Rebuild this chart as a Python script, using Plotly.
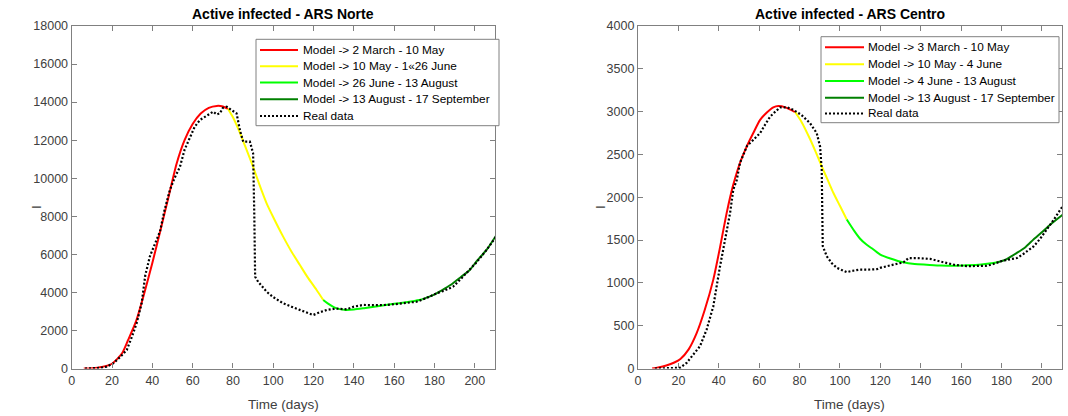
import plotly.graph_objects as go

# ---------------- ARS Norte ----------------
norte_red_t = [6, 10, 15, 20, 25, 28, 32, 36, 40, 44, 48, 52, 56, 60, 64, 68, 72, 75, 77.5]
norte_red_v = [0, 15, 80, 250, 800, 1500, 2500, 3950, 5550, 7250, 9000, 10750, 12000, 12850, 13400, 13700, 13800, 13770, 13650]
norte_yel_t = [77.5, 80, 83, 86, 90, 93, 96.7, 100, 104.9, 109, 113.2, 117, 121.5, 124.8]
norte_yel_v = [13650, 13200, 12500, 11700, 10600, 9700, 8680, 7950, 6930, 6150, 5440, 4800, 4125, 3600]
norte_grn_t = [124.8, 127, 130, 133, 136, 140, 145, 150, 155, 160, 165, 170, 174]
norte_grn_v = [3600, 3420, 3230, 3120, 3080, 3100, 3170, 3250, 3320, 3400, 3470, 3550, 3640]
norte_dgr_t = [174, 178, 181, 185, 189, 193, 197.5, 201, 205.8, 210.5]
norte_dgr_v = [3640, 3800, 3950, 4200, 4470, 4800, 5180, 5650, 6230, 6980]
norte_real_t = [6.6, 10, 14, 17.4, 20.6, 24, 27.3, 30, 32.2, 34.7, 36.5, 38.8, 41, 43.8, 46, 48.7, 51,
                53.7, 56, 58.7, 61, 63.6, 67, 70.2, 72, 73.5, 75, 76.9, 79, 81.8, 83.5, 85.1, 88.4,
                90, 90.6, 91, 92.5, 96.7, 100, 104.9, 109, 113.2, 116, 119.8, 123, 126.5, 131,
                136.4, 140, 144.6, 150, 156.2, 162, 167, 171.1, 176, 181, 185, 189.2, 193, 197.5,
                201, 205.8, 211]
norte_real_v = [0, 0, 30, 100, 270, 600, 970, 1700, 2375, 3425, 4900, 5900, 6450, 7200, 8300, 9380, 10000,
                10600, 11500, 12180, 12700, 13060, 13300, 13500, 13350, 13410, 13700, 13760, 13600, 13410,
                12500, 11920, 11920, 11310, 8000, 4820, 4560, 4035, 3750, 3425, 3250, 3075, 2950, 2810,
                2950, 3075, 3150, 3110, 3250, 3340, 3330, 3340, 3400, 3450, 3510, 3700, 3950, 4100, 4300,
                4700, 5180, 5600, 6230, 7000]

# ---------------- ARS Centro ----------------
centro_red_t = [7, 10, 14, 18, 21, 25, 29, 33, 37.3, 40.5, 43.9, 47, 50.5, 54, 57.1, 60.4, 63.8, 67, 69.5, 73, 77.8]
centro_red_v = [0, 12, 35, 70, 110, 220, 410, 680, 1038, 1400, 1815, 2130, 2400, 2600, 2750, 2900, 2990, 3050, 3066, 3050, 2995]
centro_yel_t = [77.8, 81, 85.2, 88, 91, 94, 96.8, 100, 103.4]
centro_yel_v = [2995, 2880, 2680, 2530, 2360, 2200, 2050, 1900, 1740]
centro_grn_t = [103.4, 107, 110, 113, 116.6, 120, 125, 131.4, 137, 143, 150, 156.2, 163, 170, 176, 178]
centro_grn_v = [1740, 1610, 1515, 1450, 1390, 1330, 1285, 1240, 1220, 1212, 1203, 1200, 1205, 1215, 1232, 1240]
centro_dgr_t = [178, 182, 187.6, 192, 195.8, 200, 204.1, 210.5]
centro_dgr_v = [1240, 1270, 1350, 1420, 1505, 1590, 1680, 1800]
centro_real_t = [8.4, 12, 16, 20.8, 24.1, 27, 30.7, 34, 37.3, 40.6, 43, 45.6, 47.2, 48.9, 50.5, 54, 57.1, 60.5,
                 63, 65.4, 68, 70.4, 74, 77, 81, 85.2, 88.5, 90.2, 91, 91.5, 93.5, 96, 98.5, 103.4, 106, 110,
                 114, 118.3, 119.9, 123, 126.5, 131.5, 134, 138.1, 144.7, 149.7, 156.3, 162.9, 168, 172.8,
                 176, 179.4, 183, 187.7, 191, 195.9, 199, 202.5, 206, 210.7]
centro_real_v = [0, 0, 0, 8, 66, 150, 260, 455, 727, 1190, 1500, 1815, 2090, 2200, 2400, 2600, 2670, 2750,
                 2850, 2940, 3000, 3050, 3050, 3020, 2960, 2865, 2750, 2590, 2320, 1430, 1310, 1230, 1175,
                 1125, 1140, 1155, 1155, 1160, 1175, 1195, 1213, 1240, 1290, 1290, 1280, 1250, 1213, 1195,
                 1195, 1200, 1220, 1250, 1270, 1290, 1340, 1425, 1510, 1620, 1740, 1910]

norte_labels = ["Model -> 2 March - 10 May", "Model -> 10 May - 1\u00ab26 June",
                "Model -> 26 June - 13 August", "Model -> 13 August - 17 September", "Real data"]
centro_labels = ["Model -> 3 March - 10 May", "Model -> 10 May - 4 June",
                 "Model -> 4 June - 13 August", "Model -> 13 August - 17 September", "Real data"]
norte_yticks = list(range(0, 18001, 2000))
centro_yticks = list(range(0, 4001, 500))
xticks = list(range(0, 201, 20))
model_colors = ["#ff0000", "#ffff00", "#00ff00", "#008000"]

W, H = 1068, 416
FONT = "Liberation Sans, Arial, Helvetica, sans-serif"

fig = go.Figure()
shapes = []
annotations = []

def px_x(p):
    return p / W

def px_y(p):
    return 1 - p / H

def add_panel(series, real, labels, xa, ya, box, rows_y, line_x, text_x):
    for (t, v), lab, col in zip(series, labels[:4], model_colors):
        fig.add_trace(go.Scatter(x=t, y=v, mode="lines", name=lab, xaxis=xa, yaxis=ya, showlegend=False,
                                 line=dict(color=col, width=2, shape="spline", smoothing=0.6)))
    fig.add_trace(go.Scatter(x=real[0], y=real[1], mode="lines", name=labels[4], xaxis=xa, yaxis=ya,
                             showlegend=False, line=dict(color="black", width=2.2, dash="2px,2px")))
    # legend box (drawn in paper pixels)
    x0, y0, x1, y1 = box
    shapes.append(dict(type="rect", xref="paper", yref="paper", x0=px_x(x0), x1=px_x(x1),
                       y0=px_y(y1), y1=px_y(y0), line=dict(color="#808080", width=1),
                       fillcolor="white", layer="above"))
    styles = [dict(color=c, width=2) for c in model_colors] + [dict(color="black", width=2.2, dash="2px,2px")]
    for lab, ry, st in zip(labels, rows_y, styles):
        shapes.append(dict(type="line", xref="paper", yref="paper", x0=px_x(line_x[0]), x1=px_x(line_x[1]),
                           y0=px_y(ry), y1=px_y(ry), line=st, layer="above"))
        annotations.append(dict(text=lab, xref="paper", yref="paper", x=px_x(text_x), y=px_y(ry),
                                xanchor="left", yanchor="middle", showarrow=False,
                                font=dict(family=FONT, size=11.8, color="black")))

add_panel([(norte_red_t, norte_red_v), (norte_yel_t, norte_yel_v), (norte_grn_t, norte_grn_v),
           (norte_dgr_t, norte_dgr_v)], (norte_real_t, norte_real_v), norte_labels, "x", "y",
          (256, 39.3, 499, 125.7), [50, 66.3, 82.5, 99.3, 116], (260, 298), 301)
add_panel([(centro_red_t, centro_red_v), (centro_yel_t, centro_yel_v), (centro_grn_t, centro_grn_v),
           (centro_dgr_t, centro_dgr_v)], (centro_real_t, centro_real_v), centro_labels, "x2", "y2",
          (821, 36.7, 1059, 122.7), [47.3, 64.3, 81, 97.7, 113.5], (825, 864), 866)

ax_l = (71.7, 495)
ax_r = (638, 1062)
for (a, b), title, ylab_x in [(ax_l, "Active infected - ARS Norte", 36), (ax_r, "Active infected - ARS Centro", 600)]:
    annotations.append(dict(text="<b>" + title + "</b>", x=px_x((a + b) / 2), y=px_y(14), xref="paper",
                            yref="paper", showarrow=False, yanchor="middle", xanchor="center",
                            font=dict(family=FONT, size=14, color="black")))
    annotations.append(dict(text="Time (days)", x=px_x((a + b) / 2), y=px_y(404), xref="paper",
                            yref="paper", showarrow=False, yanchor="middle", xanchor="center",
                            font=dict(family=FONT, size=13.5, color="#404040")))
    annotations.append(dict(text="I", x=px_x(ylab_x), y=px_y(207), xref="paper", yref="paper",
                            showarrow=False, yanchor="middle", xanchor="center", textangle=-90,
                            font=dict(family=FONT, size=13.5, color="#404040")))

ydom = [px_y(368.5), px_y(26)]
axcommon = dict(showline=True, linecolor="#808080", linewidth=1.3, mirror="ticks", ticks="inside",
                ticklen=5, tickcolor="#808080", showgrid=False, zeroline=False, automargin=False,
                tickfont=dict(family=FONT, size=12.5, color="#404040"))

fig.update_layout(
    width=W, height=H, margin=dict(l=0, r=0, t=0, b=0, autoexpand=False),
    plot_bgcolor="white", paper_bgcolor="white", showlegend=False,
    font=dict(family=FONT, color="#262626"),
    xaxis=dict(domain=[px_x(ax_l[0]), px_x(ax_l[1])], range=[0, 210], tickvals=xticks, anchor="y", **axcommon),
    yaxis=dict(domain=ydom, range=[0, 18000], tickvals=norte_yticks, ticktext=[str(v) for v in norte_yticks],
               anchor="x", **axcommon),
    xaxis2=dict(domain=[px_x(ax_r[0]), px_x(ax_r[1])], range=[0, 210], tickvals=xticks, anchor="y2", **axcommon),
    yaxis2=dict(domain=ydom, range=[0, 4000], tickvals=centro_yticks, ticktext=[str(v) for v in centro_yticks],
                anchor="x2", **axcommon),
    shapes=shapes,
    annotations=annotations,
)

fig.write_html("out.html", config={"displayModeBar": False},
               post_script="document.body.style.margin='0';document.body.style.overflow='hidden';")
